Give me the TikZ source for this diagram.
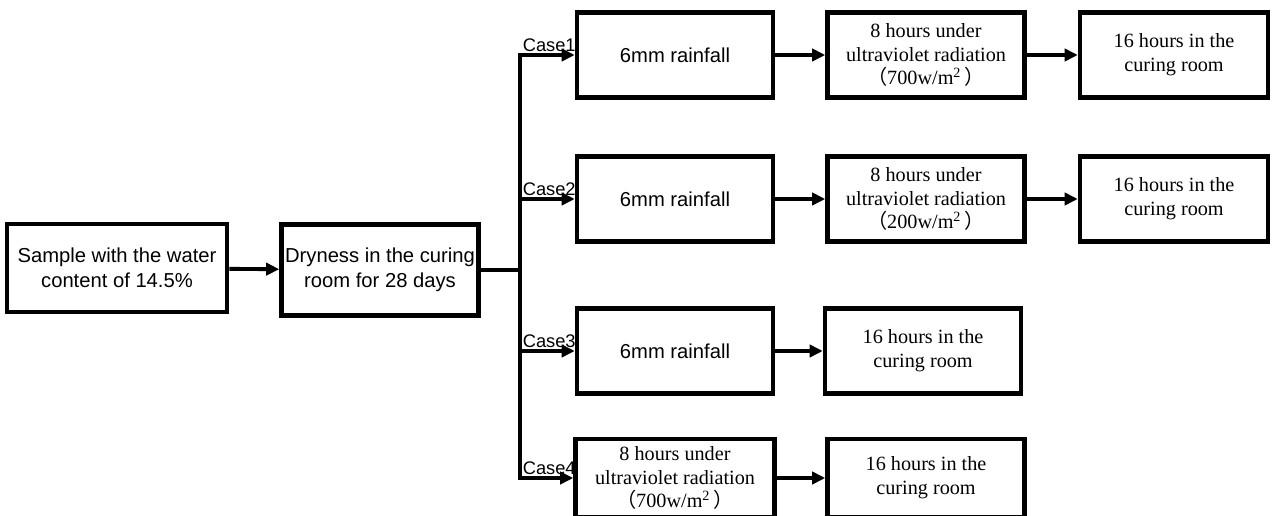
\documentclass[tikz,border=0pt]{standalone}
\usepackage{fontspec}
\setmainfont{Liberation Serif}
\setsansfont{Liberation Sans}
\newfontfamily\cjk{Noto Sans CJK SC}
\usetikzlibrary{arrows.meta}
\tikzset{
  box/.style={draw, line width=2.6pt, align=center, inner sep=0pt, minimum height=1.7cm},
  sbox/.style={box, font=\sffamily\fontsize{11.5}{14.5}\selectfont},
  rbox/.style={box, font=\rmfamily\fontsize{11.5}{13.6}\selectfont},
  link/.style={line width=2.2pt, line cap=rect},
  arr/.style={line width=2.2pt, -{Triangle[length=7.5pt,width=7pt]}},
  case/.style={font=\sffamily\fontsize{10.4}{12}\selectfont, above right, inner xsep=0.5pt, inner ysep=1pt},
}
\newcommand{\uvdose}[1]{{\cjk （}#1w/m\textsuperscript{2}\,{\cjk ）}}

\begin{document}
\begin{tikzpicture}[x=0.02cm, y=-0.02cm]
		%%%%% START %%%%%
		\useasboundingbox (0,0) rectangle (1273,516);
		
		\node[sbox, minimum width=4.4cm, minimum height=1.76cm] (sample) at (117,268) {Sample with the water\\content of 14.5\%};
		\node[sbox, minimum width=3.94cm, minimum height=1.82cm] (dry) at (380,270) {Dryness in the curing\\room for 28 days};
		\coordinate (split) at (520,268);
		
		% case 1
		\node[sbox, minimum width=3.92cm] (rain1) at (675,55) {6mm rainfall};
		\node[rbox, minimum width=3.94cm] (uv1) at (926,55) {8 hours under\\ultraviolet radiation\\\uvdose{700}};
		\node[rbox, minimum width=3.76cm] (cure1) at (1174,55) {16 hours in the\\curing room};
		
		% case 2
		\node[sbox, minimum width=3.92cm] (rain2) at (675,199) {6mm rainfall};
		\node[rbox, minimum width=3.94cm] (uv2) at (926,199) {8 hours under\\ultraviolet radiation\\\uvdose{200}};
		\node[rbox, minimum width=3.76cm] (cure2) at (1174,199) {16 hours in the\\curing room};
		
		% case 3
		\node[sbox, minimum width=3.92cm] (rain3) at (675,351) {6mm rainfall};
		\node[rbox, minimum width=3.92cm] (cure3) at (923,351) {16 hours in the\\curing room};
		
		% case 4
		\node[rbox, minimum width=3.98cm, minimum height=1.56cm] (uv4) at (675,478) {8 hours under\\ultraviolet radiation\\\uvdose{700}};
		\node[rbox, minimum width=3.94cm, minimum height=1.56cm] (cure4) at (926,478) {16 hours in the\\curing room};
		
		\draw[arr] (sample) -- (dry);
		\draw[link] (dry.east) -- (dry.east -| split);
		\draw[link] (split |- rain1) -- (split |- uv4);
		
		\draw[arr] (split |- rain1) node[case] {Case1} -- (rain1);
		\draw[arr] (split |- rain2) node[case] {Case2} -- (rain2);
		\draw[arr] (split |- rain3) node[case] {Case3} -- (rain3);
		\draw[arr] (split |- uv4) node[case] {Case4} -- (uv4);
		
		\draw[arr] (rain1) -- (uv1);
		\draw[arr] (uv1) -- (cure1);
		\draw[arr] (rain2) -- (uv2);
		\draw[arr] (uv2) -- (cure2);
		\draw[arr] (rain3) -- (cure3);
		\draw[arr] (uv4) -- (cure4);
		
		%%%%% END %%%%%
\end{tikzpicture}
\end{document}
